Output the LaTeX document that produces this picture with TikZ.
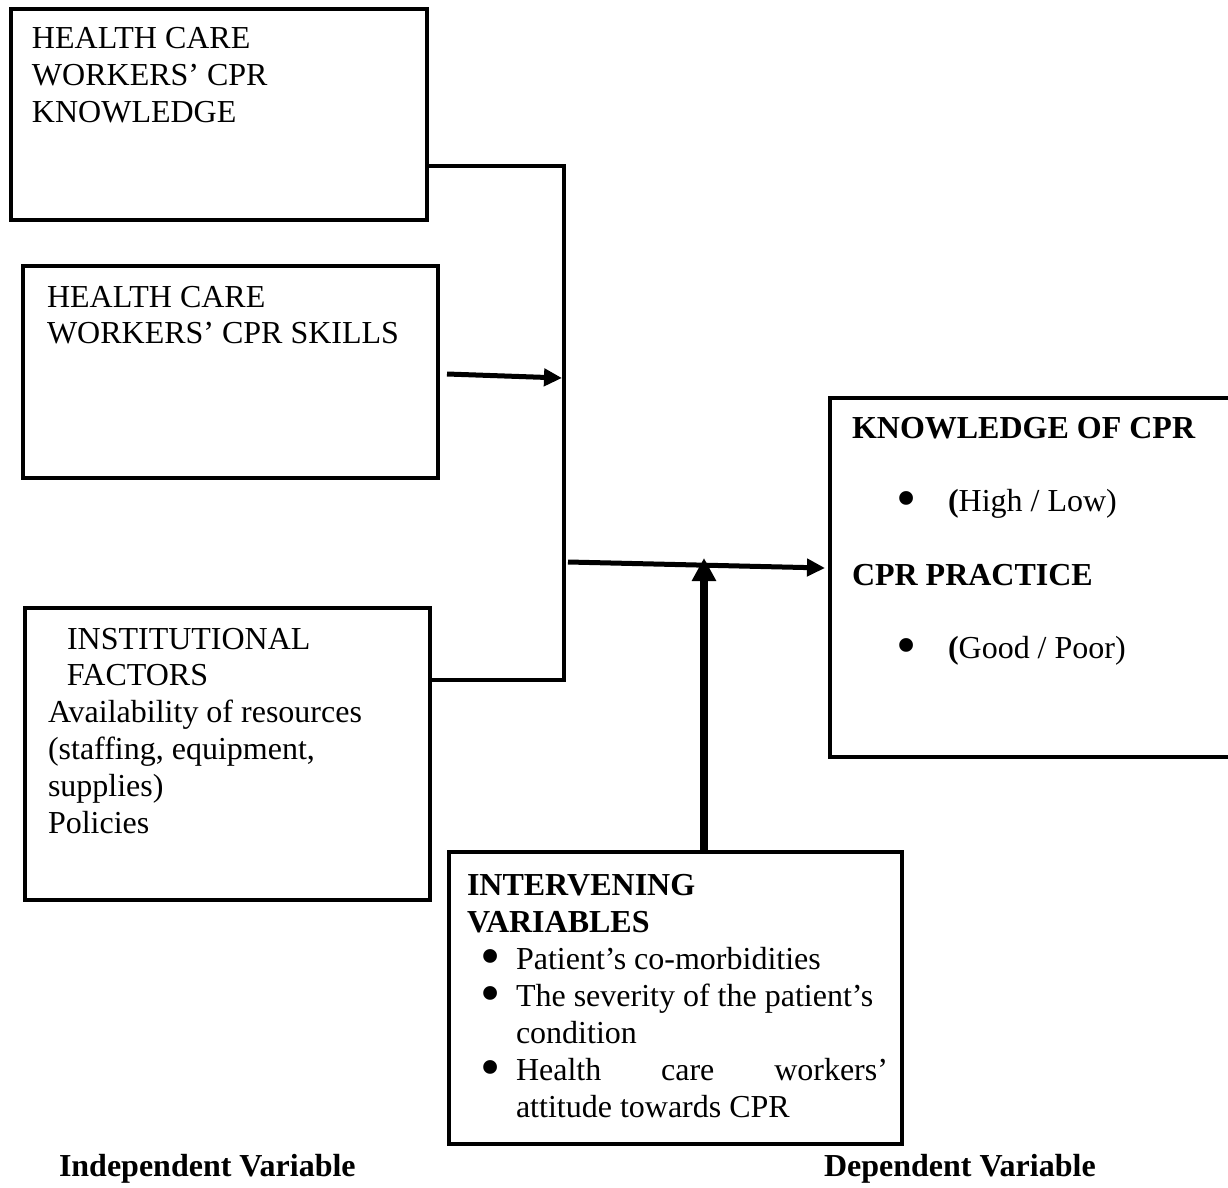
\documentclass[tikz,border=0pt]{standalone}
\usepackage{fontspec}
\setmainfont{Liberation Serif}
\usetikzlibrary{arrows.meta}
\newlength\pxu
\setlength\pxu{0.5pt}
\newcommand\bigbul{\raisebox{-3pt}{\scalebox{1.8}{\textbullet}}}
\begin{document}
\begin{tikzpicture}[x=0.5pt,y=-0.5pt,
  box/.style={draw, line width=2pt, inner sep=0pt, outer sep=0pt, anchor=north west},
  txt/.style={anchor=base west, inner sep=0pt, outer sep=0pt, font=\fontsize{16}{18.4}\selectfont},
  conn/.style={line width=2pt, line join=miter},
  arr/.style={line width=2.5pt, -{Triangle[length=9pt,width=8.5pt]}},
  varr/.style={line width=4pt, -{Triangle[length=11.5pt,width=11.5pt]}}]
\useasboundingbox (0,0) rectangle (1228,1188);
\clip (0,0) rectangle (1228,1188);
\fill[white] (0,0) rectangle (1228,1188);

% boxes
\node[box, minimum width=416\pxu, minimum height=211\pxu] (k1) at (11,9) {};
\node[box, minimum width=415\pxu, minimum height=212\pxu] (k2) at (23,266) {};
\node[box, minimum width=405\pxu, minimum height=292\pxu] (k3) at (25,608) {};
\node[box, minimum width=453\pxu, minimum height=292\pxu] (iv) at (449,852) {};
\node[box, minimum width=430\pxu, minimum height=359\pxu] (rb) at (830,398) {};

% texts
\node[txt] (t1) at (32,49) {\parbox[t]{200pt}{HEALTH CARE\\WORKERS’ CPR\\KNOWLEDGE}};
\node[txt] (t2) at (47,307) {\parbox[t]{200pt}{HEALTH CARE\\WORKERS’ CPR SKILLS}};
\node[txt] (t3) at (48,649) {\parbox[t]{200pt}{\hspace*{9.5pt}INSTITUTIONAL\\\hspace*{9.5pt}FACTORS\\Availability of resources\\(staffing, equipment,\\supplies)\\Policies}};
\node[txt] (t4) at (852,438) {\parbox[t]{200pt}{\textbf{KNOWLEDGE OF CPR}\\[18.4pt]
  \makebox[48pt][l]{\hspace*{22pt}\bigbul}\textbf{(}High / Low)\\[18.4pt]
  \textbf{CPR PRACTICE}\\[18.4pt]
  \makebox[48pt][l]{\hspace*{22pt}\bigbul}\textbf{(}Good / Poor)}};
\node[txt, font=\fontsize{16}{18.5}\selectfont] (t5) at (467,895) {\parbox[t]{230pt}{\textbf{INTERVENING}\\\textbf{VARIABLES}\\
  \makebox[24.5pt][l]{\hspace*{6.5pt}\bigbul}Patient’s co-morbidities\\
  \makebox[24.5pt][l]{\hspace*{6.5pt}\bigbul}The severity of the patient’s\\
  \hspace*{24.5pt}condition\\
  \makebox[24.5pt][l]{\hspace*{6.5pt}\bigbul}\makebox[186pt][s]{Health care workers’}\\
  \hspace*{24.5pt}attitude towards CPR}};
\node[txt] (t6) at (59,1176) {\textbf{Independent Variable}};
\node[txt] (t7) at (824,1176) {\textbf{Dependent Variable}};

% connectors
\coordinate (bt) at (564,166);
\coordinate (bb) at (564,680);
\draw[conn] (k1.east |- bt) -- (bt) -- (bb) -- (k3.east |- bb);
\coordinate (a2s) at (447,374);
\coordinate (a2e) at (562,378);
\draw[arr] (a2s) -- (a2e);
\coordinate (m1) at (568,562);
\coordinate (m2) at (825,568);
\draw[arr] (m1) -- (m2);
\coordinate (vt) at (704,558);
\draw[varr] (iv.north -| vt) -- (vt);
\end{tikzpicture}
\end{document}
